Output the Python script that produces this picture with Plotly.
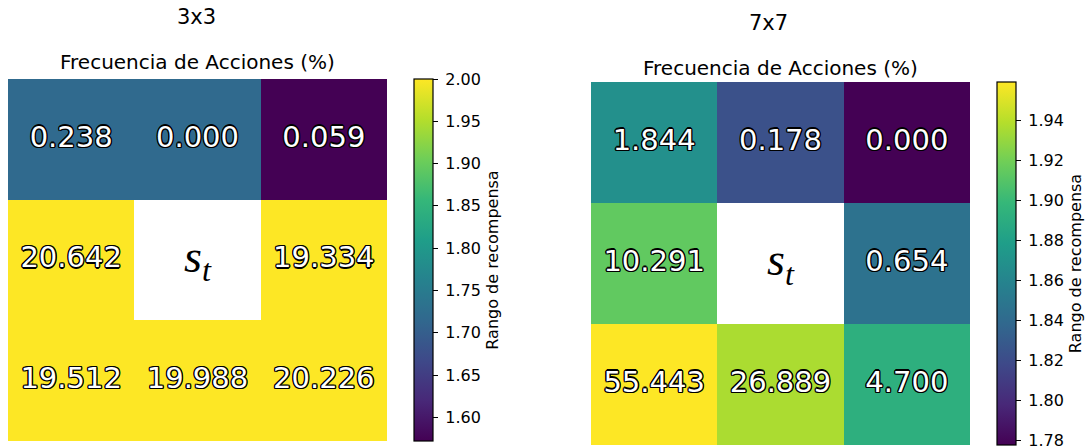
import numpy as np
import plotly.graph_objects as go

# ---- data ----
cols = [0, 1, 2]
rows = [0, 1, 2]

reward_3x3 = [[1.718, 1.718, 1.572],
              [2.000, None, 2.000],
              [2.000, 2.000, 2.000]]
freq_3x3 = [["0.238", "0.000", "0.059"],
            ["20.642", "", "19.334"],
            ["19.512", "19.988", "20.226"]]

reward_7x7 = [[1.868, 1.823, 1.7775],
              [1.914, None, 1.846],
              [1.959, 1.936, 1.892]]
freq_7x7 = [["1.844", "0.178", "0.000"],
            ["10.291", "", "0.654"],
            ["55.443", "26.889", "4.700"]]

range_3x3 = (1.572, 2.000)
range_7x7 = (1.7775, 1.959)

titles = ["3x3", "7x7"]
subtitle = "Frecuencia de Acciones (%)"
cbar_title = "Rango de recompensa"
center_label = "<i>s</i><sub><i>t</i></sub>"

W, H = 1092, 448
FONT = "DejaVu Sans"
OUTLINE = ("1px 1px 0 #000, -1px -1px 0 #000, 1px -1px 0 #000, -1px 1px 0 #000, "
           "1.3px 0 0 #000, -1.3px 0 0 #000, 0 1.3px 0 #000, 0 -1.3px 0 #000")

def px_x(a, b):
    return [a / W, b / W]

def px_y(top, bottom):
    return [1 - bottom / H, 1 - top / H]

fig = go.Figure()

panels = [
    dict(z=reward_3x3, t=freq_3x3, rng=range_3x3, dx=(8, 387), dy=(79, 441),
         cbx=414, dtick=0.05, tick0=1.60, xa="x", ya="y",
         title=titles[0], tx=196, ty=17, sy=62),
    dict(z=reward_7x7, t=freq_7x7, rng=range_7x7, dx=(591, 970), dy=(82, 445),
         cbx=997, dtick=0.02, tick0=1.78, xa="x2", ya="y2",
         title=titles[1], tx=768, ty=23, sy=68),
]

layout_axes = {}
annotations = []
for i, p in enumerate(panels):
    z = np.array([[np.nan if v is None else v for v in r] for r in p["z"]], dtype=float)
    top, bottom = p["dy"]
    fig.add_trace(go.Heatmap(
        z=z, x=cols, y=rows, xaxis=p["xa"], yaxis=p["ya"],
        colorscale="Viridis", zmin=p["rng"][0], zmax=p["rng"][1],
        hoverongaps=False,
        colorbar=dict(
            x=p["cbx"] / W, xanchor="left", xref="paper", xpad=0, ypad=0,
            y=1 - (top + bottom) / 2 / H, yanchor="middle",
            len=bottom - top, lenmode="pixels", thickness=19,
            outlinecolor="black", outlinewidth=1.2,
            ticks="outside", ticklen=5, tickcolor="black",
            tick0=p["tick0"], dtick=p["dtick"], tickformat=".2f",
            tickprefix="\u2005",
            ticklabeloverflow="allow",
            tickfont=dict(family=FONT, size=16, color="black"),
            title=dict(text=cbar_title, side="right",
                       font=dict(family=FONT, size=16, color="black")),
        ),
    ))
    xs, ys, txt = [], [], []
    for r in rows:
        for c in cols:
            if p["t"][r][c]:
                xs.append(c); ys.append(r); txt.append(p["t"][r][c])
    fig.add_trace(go.Scatter(
        x=xs, y=ys, text=txt, mode="text", xaxis=p["xa"], yaxis=p["ya"],
        textposition="middle center", hoverinfo="skip", showlegend=False,
        textfont=dict(family=FONT, size=29, color="white", shadow=OUTLINE),
    ))
    fig.add_trace(go.Scatter(
        x=[1], y=[1], text=[center_label], mode="text", xaxis=p["xa"], yaxis=p["ya"],
        textposition="middle center", hoverinfo="skip", showlegend=False,
        textfont=dict(family="Liberation Serif", size=46, color="black"),
    ))
    suffix = "" if i == 0 else "2"
    layout_axes["xaxis" + suffix] = dict(domain=px_x(*p["dx"]), range=[-0.5, 2.5],
                                         visible=False, fixedrange=True,
                                         anchor="y" + suffix)
    layout_axes["yaxis" + suffix] = dict(domain=px_y(top, bottom), range=[2.5, -0.5],
                                         visible=False, fixedrange=True,
                                         anchor="x" + suffix)
    annotations.append(dict(text=p["title"], x=p["tx"] / W, y=1 - p["ty"] / H,
                            xref="paper", yref="paper", showarrow=False,
                            xanchor="center", yanchor="middle",
                            font=dict(family=FONT, size=21, color="black")))
    annotations.append(dict(text=subtitle, x=sum(p["dx"]) / 2 / W, y=1 - p["sy"] / H,
                            xref="paper", yref="paper", showarrow=False,
                            xanchor="center", yanchor="middle",
                            font=dict(family=FONT, size=20, color="black")))

fig.update_layout(
    width=W, height=H, margin=dict(l=0, r=0, t=0, b=0),
    paper_bgcolor="white", plot_bgcolor="white",
    showlegend=False, annotations=annotations, **layout_axes,
)

fig.write_html("out.html", config={"displayModeBar": False},
               post_script="document.body.style.margin='0';document.body.style.overflow='hidden';")
